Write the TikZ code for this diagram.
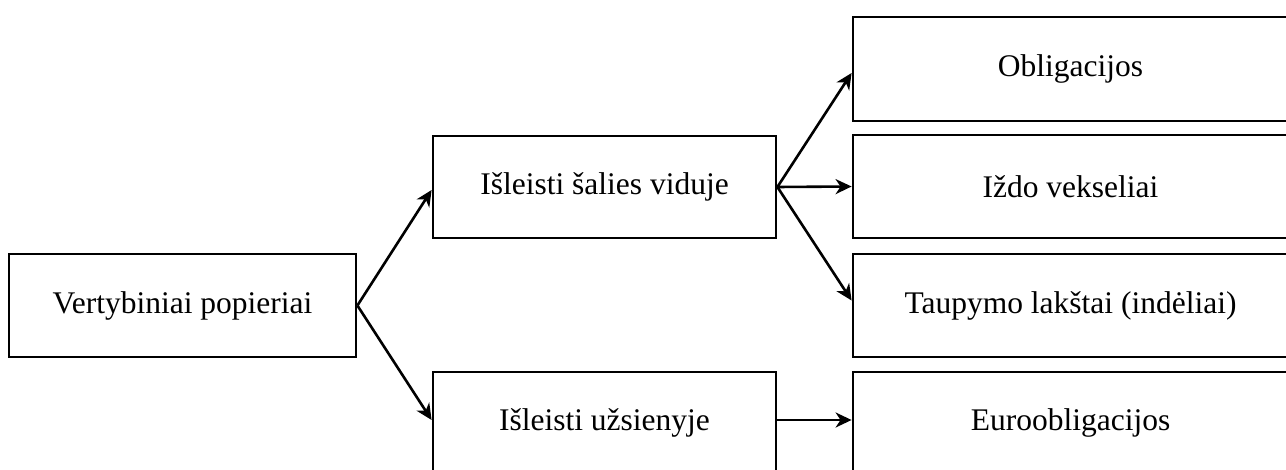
\documentclass[tikz,border=0pt]{standalone}
\usepackage{fontspec}
\setmainfont{Liberation Serif}
\usetikzlibrary{arrows.meta}
\begin{document}
\begin{tikzpicture}[x=1pt,y=-1pt,
  box/.style={draw,line width=2.8pt,inner sep=0pt,font=\fontsize{31.5}{36}\selectfont},
  conn/.style={line width=2.6pt,-{Stealth[length=16pt,width=15pt,inset=5pt]}}]
\useasboundingbox (0,0) rectangle (1286,470);
\node[box,minimum width=347pt,minimum height=103pt] (V) at (182.5,305.5) {Vertybiniai popieriai};
\node[box,minimum width=343pt,minimum height=102pt] (S) at (604.5,187) {Išleisti šalies viduje};
\node[box,minimum width=343pt,minimum height=102pt] (U) at (604.5,423) {Išleisti užsienyje};
\node[box,minimum width=435pt,minimum height=104pt] (O) at (1070.5,69) {Obligacijos};
\node[box,minimum width=435pt,minimum height=103pt] (I) at (1070.5,186.5) {Iždo vekseliai};
\node[box,minimum width=435pt,minimum height=103pt] (T) at (1070.5,305.5) {Taupymo lakštai (indėliai)};
\node[box,minimum width=435pt,minimum height=102pt] (E) at (1070.5,423) {Euroobligacijos};
\draw[conn] (V.east) -- ([yshift=-3pt]S.west);
\draw[conn] (V.east) -- ([yshift=3pt]U.west);
\draw[conn] (S.east) -- ([yshift=-4pt]O.west);
\draw[conn] (S.east) -- (I.west);
\draw[conn] (S.east) -- ([yshift=5pt]T.west);
\draw[conn] ([yshift=3pt]U.east) -- ([yshift=3pt]E.west);
\end{tikzpicture}
\end{document}
